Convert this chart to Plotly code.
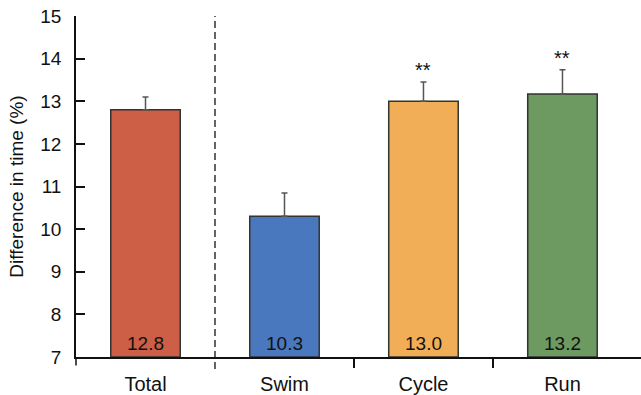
import plotly.graph_objects as go

categories = ["Total", "Swim", "Cycle", "Run"]
values = [12.8, 10.3, 13.0, 13.17]
value_labels = ["12.8", "10.3", "13.0", "13.2"]
errors = [0.3, 0.55, 0.45, 0.57]
significance = ["", "", "**", "**"]
colors = ["#CC5F46", "#4978BE", "#F2AE56", "#6C9A61"]
y_ticks = [7, 8, 9, 10, 11, 12, 13, 14, 15]

FONT = "Liberation Sans, Arial, Helvetica, sans-serif"
xs = list(range(len(categories)))

fig = go.Figure()
fig.add_trace(go.Bar(
    x=xs, y=[v - 7 for v in values], base=7, width=0.5,
    marker=dict(color=colors, line=dict(color="#333333", width=1.5)),
    error_y=dict(type="data", array=errors, arrayminus=[0] * 4, symmetric=False,
                 color="#555555", thickness=1.5, width=3),
    showlegend=False, hoverinfo="skip",
))
# invisible trace to activate the secondary x axis
fig.add_trace(go.Scatter(x=[0], y=[7], xaxis="x2", mode="markers",
                         marker=dict(opacity=0), showlegend=False, hoverinfo="skip"))

for x, lbl in zip(xs, value_labels):
    fig.add_annotation(x=x, y=7, text=lbl, showarrow=False, yanchor="bottom",
                       yshift=1, font=dict(family=FONT, size=19, color="#111111"))
for x, v, e, s in zip(xs, values, errors, significance):
    if s:
        fig.add_annotation(x=x, y=v + e, text=s, showarrow=False, yanchor="bottom",
                           yshift=-1, font=dict(family=FONT, size=20, color="#111111"))

# dashed separator between Total and the splits
fig.add_shape(type="line", xref="x", yref="paper", x0=0.5, x1=0.5, y0=-0.035, y1=1,
              line=dict(color="#111111", width=1.3, dash="7px,4px"))
# y axis line extension below the x axis
fig.add_shape(type="line", xref="paper", yref="paper", x0=0, x1=0, y0=-0.025, y1=0,
              line=dict(color="#111111", width=1.5))

fig.update_layout(
    width=641, height=395,
    margin=dict(l=76, r=0, t=16, b=38),
    plot_bgcolor="white", paper_bgcolor="white",
    font=dict(family=FONT, color="#111111"),
    bargap=0.5,
    xaxis=dict(range=[-0.5, 3.565], tickvals=xs, ticktext=categories, ticks="",
               showline=True, linecolor="#111111", linewidth=1.5, showgrid=False,
               zeroline=False, tickfont=dict(size=20), ticklabelstandoff=8,
               automargin=False),
    xaxis2=dict(overlaying="x", matches="x", side="bottom", tickvals=[1.5, 2.5],
                ticks="outside", ticklen=10, tickwidth=1.5, tickcolor="#111111",
                showticklabels=False, showline=False, showgrid=False, zeroline=False,
                automargin=False),
    yaxis=dict(range=[7, 15], tickvals=y_ticks, ticks="inside", ticklen=9,
               tickwidth=1.5, tickcolor="#111111", showline=True, linecolor="#111111",
               linewidth=1.5, showgrid=False, zeroline=False, tickfont=dict(size=19),
               ticklabelstandoff=9, automargin=False,
               title=dict(text="Difference in time (%)", font=dict(size=19), standoff=12)),
)

fig.write_html("out.html", config={"displayModeBar": False},
               post_script="document.body.style.margin='0';document.body.style.overflow='hidden';")
